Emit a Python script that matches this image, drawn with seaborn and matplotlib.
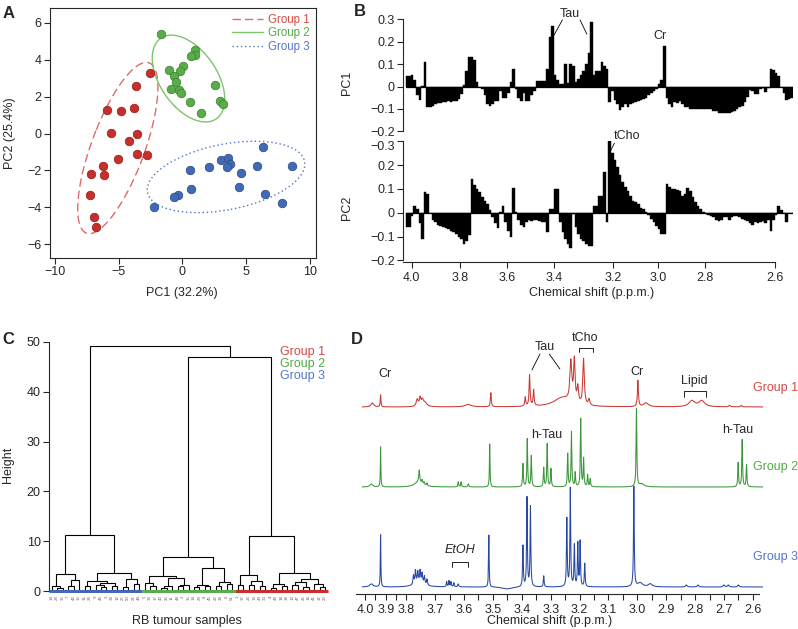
import numpy as np
import pandas as pd
import seaborn as sns
import matplotlib.pyplot as plt
from matplotlib.lines import Line2D

W, H = 798, 629

# ---------------- A: PCA scores ----------------
g1_pc1 = [-2.53, -3.68, -5.93, -4.86, -3.81, -5.59, -3.60, -4.20, -3.58, -2.79, -5.07, -6.24, -6.19, -7.15, -7.28, -6.92, -6.79]
g1_pc2 = [3.29, 2.56, 1.27, 1.24, 1.36, 0.04, -0.02, -0.41, -1.13, -1.16, -1.38, -1.74, -2.22, -2.17, -3.32, -4.50, -5.05]
g2_pc1 = [-1.72, 1.02, 1.02, 0.63, 0.03, -1.04, -0.23, -0.68, -0.47, -0.89, -0.31, -0.08, 2.53, 0.55, 2.95, 3.21, 1.49]
g2_pc2 = [5.39, 4.53, 4.27, 4.21, 3.67, 3.44, 3.37, 3.10, 2.80, 2.44, 2.37, 2.19, 2.63, 1.72, 1.77, 1.61, 1.11]
g3_pc1 = [6.32, 3.03, 3.58, 3.71, 3.47, 2.11, 5.85, 8.62, 0.60, 4.60, 4.41, 0.68, 6.48, -0.34, -0.68, 7.83, -2.22]
g3_pc2 = [-0.73, -1.43, -1.31, -1.63, -1.79, -1.81, -1.74, -1.74, -1.95, -2.15, -2.89, -2.99, -3.30, -3.32, -3.46, -3.75, -3.96]
groups = ['Group 1', 'Group 2', 'Group 3']
ELL_SD = 2.0

# ---------------- B: PC loadings (0.01 p.p.m. bins, 4.02 -> 2.54) ----------------
pc1_load = [
    0.045, 0.045, 0.05, 0.03, -0.04, -0.06, 0.003, 0.11, -0.09, -0.09,
    -0.085, -0.08, -0.075, -0.075, -0.07, -0.07, -0.065, -0.07, -0.065, -0.065,
    -0.055, -0.035, 0.005, 0.07, 0.13, 0.13, 0.12, 0.02, 0.0, -0.01,
    -0.04, -0.08, -0.085, -0.08, -0.065, -0.065, -0.02, -0.05, -0.05, -0.03,
    0.02, 0.08, -0.01, -0.05, -0.065, -0.03, -0.065, -0.065, -0.04, -0.02,
    0.025, 0.025, 0.025, 0.025, 0.08, 0.22, 0.27, 0.05, 0.03, 0.01,
    0.01, 0.1, 0.015, 0.1, 0.09, 0.02, 0.035, 0.05, 0.07, 0.1,
    0.15, 0.29, 0.05, 0.07, 0.07, 0.11, 0.09, 0.08, -0.07, -0.02,
    -0.06, -0.08, -0.105, -0.09, -0.08, -0.09, -0.08, -0.075, -0.07, -0.065,
    -0.06, -0.055, -0.05, -0.04, -0.03, -0.02, -0.01, 0.01, 0.03, 0.18,
    -0.05, -0.08, -0.09, -0.07, -0.075, -0.065, -0.08, -0.09, -0.09, -0.1,
    -0.1, -0.1, -0.1, -0.1, -0.1, -0.1, -0.1, -0.1, -0.11, -0.11,
    -0.12, -0.12, -0.12, -0.12, -0.12, -0.115, -0.11, -0.1, -0.09, -0.085,
    -0.07, -0.045, -0.015, -0.02, -0.035, -0.035, -0.01, -0.005, -0.025, -0.005,
    0.08, 0.075, 0.06, 0.045, 0.0, -0.03, -0.06, -0.055, -0.05]
pc2_load = [
    -0.06, -0.06, -0.015, 0.03, 0.015, -0.045, -0.11, 0.085, 0.08, 0.0,
    -0.03, -0.04, -0.05, -0.055, -0.06, -0.065, -0.07, -0.075, -0.08, -0.09,
    -0.1, -0.11, -0.13, -0.12, -0.095, 0.14, 0.115, 0.1, 0.085, 0.065,
    0.05, 0.035, 0.01, -0.02, -0.045, -0.065, 0.005, 0.03, -0.04, -0.075,
    -0.1, 0.105, 0.005, -0.03, -0.05, -0.06, -0.04, -0.03, -0.035, -0.03,
    -0.03, -0.035, -0.04, -0.04, -0.08, 0.015, 0.015, 0.1, 0.1, -0.04,
    -0.08, -0.11, -0.13, -0.15, -0.005, -0.06, -0.09, -0.11, -0.12, -0.13,
    -0.14, -0.14, 0.03, 0.03, 0.07, 0.07, 0.17, -0.04, 0.3, 0.25,
    0.22, 0.19, 0.16, 0.13, 0.11, 0.09, 0.07, 0.05, 0.045, 0.035,
    0.02, 0.015, 0.005, -0.01, -0.025, -0.04, -0.055, -0.07, -0.09, -0.09,
    0.12, 0.11, 0.1, 0.1, 0.095, 0.09, 0.07, 0.08, 0.105, 0.09,
    0.065, 0.045, 0.03, 0.015, 0.005, -0.005, -0.008, -0.015, -0.02, -0.03,
    -0.035, -0.03, -0.02, -0.02, -0.03, -0.02, -0.015, -0.015, -0.02, -0.025,
    -0.03, -0.035, -0.045, -0.05, -0.04, -0.045, -0.04, -0.035, -0.045, -0.03,
    -0.075, -0.03, -0.01, 0.03, 0.01, 0.0, -0.04, 0.0, 0.0]
b_tick_bins = [1.9, 20.5, 38.4, 56.6, 79.4, 96.7, 114.7, 141.6]
b_tick_labels = ['4.0', '3.8', '3.6', '3.4', '3.2', '3.0', '2.8', '2.6']
pc1_ticks = [-0.2, -0.1, 0, 0.1, 0.2, 0.3]
pc1_tick_labels = ['\u22120.2', '\u22120.1', '0', '0.1', '0.2', '0.3']
pc2_tick_labels = ['\u22120.2', '\u22120.1', '0', '0.1', '0.2', '\u22120.3']

# ---------------- C: hierarchical clustering [height, left, right] ----------------
o = 'leaf'
blue_tree = [11.2,
             [3.4, [1.1, o, [0.7, o, o]], [2.2, [1.0, o, o], o]],
             [3.7, [2.0, [1.0, o, o], [1.6, [1.3, o, [0.8, o, o]], [1.0, o, o]]],
              [2.4, [0.9, o, o], [1.5, o, o]]]]
green_tree = [6.9,
              [3.0, [1.6, o, [1.0, o, o]], [2.7, [1.0, [0.7, o, o], o], [1.2, [1.0, o, o], o]]],
              [4.6, [1.2, [0.8, o, o], [1.0, o, o]], [1.8, [1.1, o, o], [1.5, o, o]]]]
red_tree = [11.1,
            [3.2, [1.2, o, o], [2.0, [1.3, o, o], [1.0, o, o]]],
            [3.7, [1.4, [0.6, o, o], [1.0, o, o]],
             [2.5, [1.8, [1.2, o, o], [0.8, o, o]], [1.5, o, [0.8, o, o]]]]]
full_tree = [49.2, blue_tree, [47.0, green_tree, red_tree]]
leaf_groups = [('Group 3', 17), ('Group 2', 17), ('Group 1', 17)]
leaf_labels = ['19', '28', '36', '7', '42', '15', '31', '24', '9', '46', '3', '38', '12', '27', '50', '21', '44',
               '5', '33', '17', '40', '26', '11', '48', '2', '35', '14', '29', '8', '45', '22', '39', '6', '51',
               '1', '37', '23', '13', '49', '30', '4', '43', '18', '34', '10', '47', '25', '16', '41', '32', '20']

# ---------------- D: 1H NMR spectra, peaks (ppm, height, half-width) ----------------
g1_peaks = [(3.965, 4, 0.008), (3.925, 12, 0.002), (3.762, 7, 0.004), (3.752, 8, 0.003),
            (3.744, 6, 0.004), (3.735, 4, 0.008), (3.585, 2.5, 0.012), (3.507, 14, 0.0018),
            (3.388, 9, 0.002), (3.373, 31, 0.002), (3.359, 16, 0.002), (3.26, 9, 0.035),
            (3.23, 40, 0.004), (3.218, 42, 0.003), (3.206, 16, 0.003), (3.186, 46, 0.003),
            (3.167, 6, 0.003), (2.998, 26, 0.002), (2.97, 4, 0.01), (2.811, 6, 0.012),
            (2.777, 6, 0.012), (2.68, 1.5, 0.003), (2.64, 1.5, 0.003)]
g2_peaks = [(3.97, 3, 0.008), (3.925, 40, 0.0015), (3.758, 5, 0.015), (3.755, 12, 0.002),
            (3.745, 4, 0.002), (3.738, 3, 0.002), (3.728, 3, 0.002), (3.62, 5, 0.0015),
            (3.61, 5, 0.0015), (3.585, 3, 0.002), (3.511, 43, 0.0012), (3.396, 23, 0.0015),
            (3.381, 48, 0.0015), (3.367, 31, 0.0015), (3.324, 19, 0.0015), (3.312, 43, 0.0015),
            (3.299, 18, 0.0015), (3.241, 33, 0.0015), (3.228, 55, 0.0015), (3.215, 14, 0.0015),
            (3.196, 68, 0.0015), (3.186, 28, 0.0015), (3.172, 12, 0.0015), (3.163, 8, 0.0015),
            (3.003, 78, 0.0015), (2.985, 3, 0.01), (2.651, 24, 0.0015), (2.637, 47, 0.0015),
            (2.622, 22, 0.0015)]
g3_peaks = [(3.97, 3, 0.01), (3.925, 52, 0.0015), (3.755, 4, 0.02), (3.775, 9, 0.002),
            (3.768, 13, 0.002), (3.76, 11, 0.002), (3.752, 12, 0.002), (3.745, 10, 0.002),
            (3.737, 8, 0.002), (3.728, 6, 0.002), (3.66, 5, 0.0015), (3.652, 6, 0.0015),
            (3.645, 5, 0.0015), (3.635, 4, 0.0015), (3.62, 3, 0.002), (3.514, 52, 0.0012),
            (3.45, -2, 0.02), (3.396, 41, 0.0015), (3.382, 89, 0.0015), (3.37, 80, 0.0015),
            (3.324, 11, 0.0015), (3.244, 68, 0.0015), (3.232, 98, 0.0015), (3.218, 41, 0.0015),
            (3.206, 43, 0.0015), (3.198, 45, 0.0015), (3.182, 23, 0.0015), (3.012, 100, 0.0015),
            (2.99, 4, 0.01), (2.955, 3, 0.008), (2.83, 2, 0.003), (2.79, 2, 0.003),
            (2.70, 2, 0.003), (2.685, 2, 0.003), (2.65, 2, 0.003)]
d_offsets = [187, 107, 7]
d_ticks = [4.0, 3.9, 3.8, 3.7, 3.6, 3.5, 3.4, 3.3, 3.2, 3.1, 3.0, 2.9, 2.8, 2.7, 2.6]

# colours
pt_col = {'Group 1': '#c62f2a', 'Group 2': '#59ad48', 'Group 3': '#4169b5'}
pt_edge = {'Group 1': '#8e1f1b', 'Group 2': '#3d7d30', 'Group 3': '#2b4a86'}
ell_col = {'Group 1': '#e06a6a', 'Group 2': '#7cc66a', 'Group 3': '#4f72c4'}
txt_col = {'Group 1': '#d44a44', 'Group 2': '#55a848', 'Group 3': '#5577c4'}
spec_col = {'Group 1': '#c83a35', 'Group 2': '#3d963d', 'Group 3': '#2747a8'}

FS = 9
sns.set_style('ticks')
plt.rcParams['font.family'] = ['Liberation Sans', 'DejaVu Sans']
plt.rcParams['axes.linewidth'] = 0.8

fig = plt.figure(figsize=(W / 100, H / 100), dpi=100)


def box(l, t, r, b):
    return [l / W, 1 - b / H, (r - l) / W, (b - t) / H]


def ftext(x, y, s, **kw):
    kw.setdefault('ha', 'center')
    kw.setdefault('va', 'center')
    fig.text(x / W, 1 - y / H, s, **kw)


# ================= A =================
axA = fig.add_axes(box(50, 8, 316, 258))
pcs = [(g1_pc1, g1_pc2), (g2_pc1, g2_pc2), (g3_pc1, g3_pc2)]
styles = [(0, (6, 3)), '-', (0, (1, 2))]
t = np.linspace(0, 2 * np.pi, 300)
for g, (xs, ys), ls in zip(groups, pcs, styles):
    pts = np.column_stack([xs, ys])
    c = pts.mean(axis=0)
    vals, vecs = np.linalg.eigh(np.cov(pts.T))
    ell = c[:, None] + ELL_SD * vecs @ (np.sqrt(vals)[:, None] * np.vstack([np.cos(t), np.sin(t)]))
    axA.plot(ell[0], ell[1], color=ell_col[g], lw=1.0, ls=ls)
    sns.scatterplot(x=xs, y=ys, color=pt_col[g], edgecolor=pt_edge[g], linewidth=0.5, s=38,
                    ax=axA, legend=False, zorder=3)
axA.set_xlim(-10.39, 10.47)
axA.set_ylim(-6.74, 6.8)
axA.set_xticks([-10, -5, 0, 5, 10])
axA.set_yticks([-6, -4, -2, 0, 2, 4, 6])
axA.tick_params(direction='out', length=4, width=0.8, labelsize=FS, pad=2)
for s in axA.spines.values():
    s.set_visible(True)
handles = [Line2D([], [], color=ell_col[g], lw=1.0, ls=ls) for g, ls in zip(groups, styles)]
axA.legend(handles, groups, loc='upper right', frameon=False, fontsize=8.3,
           labelcolor=[txt_col[g] for g in groups],
           handlelength=2.7, handletextpad=0.4, borderaxespad=0.15, labelspacing=0.1)
ftext(182, 293, 'PC1 (32.2%)', fontsize=FS)
ftext(10, 133, 'PC2 (25.4%)', fontsize=FS, rotation=90)
ftext(9, 13, 'A', fontsize=12, fontweight='bold')

# ================= B =================
bins = np.arange(len(pc1_load))
axB1 = fig.add_axes(box(403, 19.3, 793, 131.3))
axB2 = fig.add_axes(box(403, 141.3, 793, 262))
for ax, vals, lims, labs in [(axB1, pc1_load, (-0.2, 0.3), pc1_tick_labels),
                             (axB2, pc2_load, (-0.207, 0.3), pc2_tick_labels)]:
    sns.barplot(x=bins, y=vals, native_scale=True, width=1, color='black', saturation=1,
                errorbar=None, edgecolor='black', linewidth=0.3, ax=ax)
    ax.plot([-0.5, len(vals) - 0.5], [0, 0], color='black', lw=0.9)
    ax.set_xlim(-1.5, 148.5)
    ax.set_ylim(*lims)
    ax.set_yticks(pc1_ticks)
    ax.set_yticklabels(labs)
    ax.spines['left'].set_bounds(-0.2, 0.3)
    for s in ['top', 'right']:
        ax.spines[s].set_visible(False)
    ax.tick_params(axis='y', direction='out', length=4, width=0.8, labelsize=FS, pad=2)
    ax.set_xlabel('')
    ax.set_ylabel('')
# top label of the lower panel sits just under its tick, clear of the panel above
axB2.get_yticklabels()[-1].set_va('top')
axB1.spines['bottom'].set_visible(False)
axB1.set_xticks([])
axB2.set_xticks(b_tick_bins)
axB2.set_xticklabels(b_tick_labels)
axB2.spines['bottom'].set_bounds(-1.5, b_tick_bins[-1])
axB2.tick_params(axis='x', direction='out', length=4, width=0.8, labelsize=FS, pad=3)
axB1.text(62.8, 0.322, 'Tau', fontsize=FS, ha='center', va='center')
axB1.plot([59.8, 56.6], [0.297, 0.23], color='black', lw=0.6, clip_on=False)
axB1.plot([66.6, 69.2], [0.297, 0.234], color='black', lw=0.6, clip_on=False)
axB1.text(97.4, 0.225, 'Cr', fontsize=FS, ha='center', va='center')
axB2.text(84.6, 0.322, 'tCho', fontsize=FS, ha='center', va='center')
axB2.plot([79.8, 78.3], [0.292, 0.26], color='black', lw=0.6, clip_on=False)
ftext(347, 83, 'PC1', fontsize=FS, rotation=90)
ftext(347, 208, 'PC2', fontsize=FS, rotation=90)
ftext(592, 293, 'Chemical shift (p.p.m.)', fontsize=FS)
ftext(360, 12, 'B', fontsize=12, fontweight='bold')

# ================= C =================
axC = fig.add_axes(box(49, 342, 328, 591))
counter = [0]


def draw(node):
    if not isinstance(node, list):
        counter[0] += 1
        return counter[0], 0.0
    h, left, right = node
    xl, hl = draw(left)
    xr, hr = draw(right)
    axC.plot([xl, xl, xr, xr], [hl, h, h, hr], color='black', lw=0.8, solid_joinstyle='miter')
    return (xl + xr) / 2, h


draw(full_tree)
start = 1
for g, n in leaf_groups:
    axC.plot([start - 0.5, start + n - 0.5], [0, 0], color=pt_col[g], lw=2.2,
             solid_capstyle='butt', clip_on=False, zorder=3)
    start += n
for i, lab in enumerate(leaf_labels):
    axC.text(i + 1, -0.9, lab, fontsize=3.2, rotation=90, ha='center', va='top', color='#666666')
axC.set_xlim(0.5, 51.5)
axC.set_ylim(0, 50)
axC.set_yticks([0, 10, 20, 30, 40, 50])
axC.set_xticks([])
for s in ['top', 'right', 'bottom']:
    axC.spines[s].set_visible(False)
axC.spines['left'].set_bounds(0, 50)
axC.tick_params(axis='y', direction='out', length=4, width=0.8, labelsize=FS, pad=2)
for k, g in enumerate(groups):
    ftext(280, 352 + 12 * k, g, fontsize=FS, color=txt_col[g], ha='left')
ftext(8, 465, 'Height', fontsize=FS, rotation=90)
ftext(187, 621, 'RB tumour samples', fontsize=FS)
ftext(8, 340, 'C', fontsize=12, fontweight='bold')

# ================= D =================
axD = fig.add_axes(box(356, 335, 763, 594))
SQ = 0.71


def fwd(x):
    x = np.asarray(x, dtype=float)
    return np.where(x > 3.8, 3.8 + (x - 3.8) * SQ, x)


def inv(y):
    y = np.asarray(y, dtype=float)
    return np.where(y > 3.8, 3.8 + (y - 3.8) / SQ, y)


axD.set_xscale('function', functions=(fwd, inv))
ppm = np.arange(2.565, 4.015, 0.0002)
for g, peaks, off in zip(groups, [g1_peaks, g2_peaks, g3_peaks], d_offsets):
    spec = np.zeros_like(ppm)
    for c, h, w in peaks:
        spec += h * w ** 2 / ((ppm - c) ** 2 + w ** 2)
    sns.lineplot(x=ppm, y=spec + off, color=spec_col[g], lw=0.75, ax=axD,
                 estimator=None, sort=False)
axD.set_xlim(4.045, 2.565)
axD.set_ylim(0, 259)
axD.set_xticks(d_ticks)
axD.set_xticklabels(['%.1f' % v for v in d_ticks])
axD.set_xticks([v - 0.05 for v in d_ticks[:-1]], minor=True)
axD.set_yticks([])
axD.set_ylabel('')
for s in ['top', 'right', 'left']:
    axD.spines[s].set_visible(False)
axD.spines['bottom'].set_bounds(4.045, 2.58)
axD.tick_params(axis='x', which='both', direction='out', length=4, width=0.8, labelsize=FS, pad=3)

tk = dict(fontsize=FS, ha='center', va='center')
axD.text(3.902, 220, 'Cr', **tk)
axD.text(3.319, 247, 'Tau', **tk)
axD.plot([3.337, 3.365], [240, 224], color='black', lw=0.6)
axD.plot([3.305, 3.268], [240, 225], color='black', lw=0.6)
axD.text(3.181, 256, 'tCho', **tk)
axD.plot([3.202, 3.202, 3.154, 3.154], [241.7, 245.7, 245.7, 241.7], color='black', lw=0.6)
axD.text(3.002, 222, 'Cr', **tk)
axD.text(2.803, 213, 'Lipid', **tk)
axD.plot([2.838, 2.838, 2.763, 2.763], [197.3, 203.3, 203.3, 197.3], color='black', lw=0.6)
axD.text(3.313, 159, 'h-Tau', **tk)
axD.text(2.651, 164, 'h-Tau', **tk)
axD.text(3.613, 44, 'EtOH', fontstyle='italic', **tk)
axD.plot([3.642, 3.642, 3.585, 3.585], [27.3, 32.3, 32.3, 27.3], color='black', lw=0.6)
for g, y in zip(groups, [388, 467, 557]):
    ftext(753, y, g, fontsize=FS, color=txt_col[g], ha='left')
ftext(550, 621, 'Chemical shift (p.p.m.)', fontsize=FS)
ftext(357, 340, 'D', fontsize=12, fontweight='bold')

fig.savefig('out.png', dpi=100)
